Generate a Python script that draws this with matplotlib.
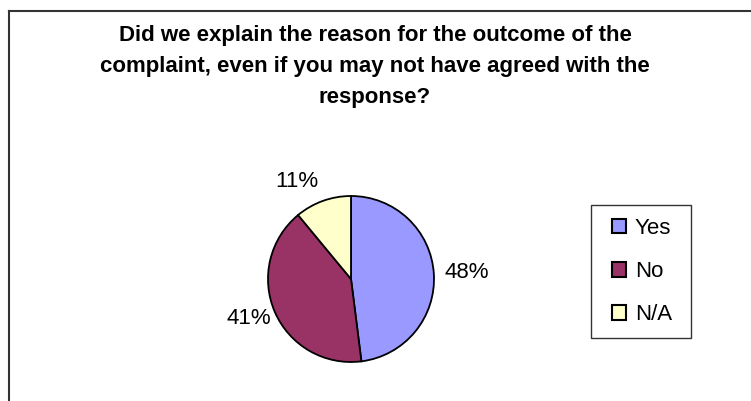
import matplotlib
matplotlib.use("Agg")
import matplotlib.pyplot as plt
from matplotlib.lines import Line2D
from matplotlib.patches import Rectangle

# Datos -------------------------------------------------------------------
categorias = ["Yes", "No", "N/A"]
porcentajes = [48, 41, 11]
colores = ["#9999FF", "#993366", "#FFFFCC"]
titulo = ("Did we explain the reason for the outcome of the\n"
          "complaint, even if you may not have agreed with the\n"
          "response?")

plt.rcParams["font.family"] = ["Liberation Sans", "DejaVu Sans"]

W, H = 751, 401
fig = plt.figure(figsize=(W / 100, H / 100), dpi=100)
fig.patch.set_facecolor("white")

# borde del area de grafico (sale por la derecha y por abajo)
fig.add_artist(Line2D([8.5 / W, 1], [1 - 10.5 / H, 1 - 10.5 / H],
                      color="#333333", lw=1.5, transform=fig.transFigure))
fig.add_artist(Line2D([8.5 / W, 8.5 / W], [0, 1 - 10.5 / H],
                      color="#333333", lw=1.5, transform=fig.transFigure))

# titulo
fig.text(375 / W, 1 - 66.5 / H, titulo, ha="center", va="center",
         fontsize=16, fontweight="bold", linespacing=1.6)

# torta
cx, cy, r = 351, 279, 83
ax = fig.add_axes([(cx - r) / W, (H - cy - r) / H, 2 * r / W, 2 * r / H])
cunas, textos, autotextos = ax.pie(
    porcentajes, colors=colores, startangle=90, counterclock=False,
    autopct="%1.0f%%", pctdistance=1.38,
    wedgeprops=dict(edgecolor="black", linewidth=1.3),
    textprops=dict(fontsize=16, color="black"))
ax.set_xlim(-1, 1)
ax.set_ylim(-1, 1)
ax.set_aspect("auto")

# ajuste fino de las etiquetas de porcentaje
posiciones = [(1.40, 0.08), (-1.23, -0.48), (-0.65, 1.18)]
for t, p in zip(autotextos, posiciones):
    t.set_position(p)

# caja de la leyenda
fig.add_artist(Rectangle((591 / W, 1 - 338 / H), 100 / W, 133 / H,
                         transform=fig.transFigure, facecolor="white",
                         edgecolor="#333333", linewidth=1.0, zorder=1))

# leyenda
leg = fig.legend(cunas, categorias, loc="upper left",
                 bbox_to_anchor=(612 / W, 1 - 218 / H),
                 fontsize=16, frameon=False, borderpad=0, borderaxespad=0,
                 handlelength=0.63, handleheight=0.63, handletextpad=0.4,
                 labelspacing=1.0)
leg.set_zorder(2)
for h in leg.legend_handles:
    h.set_edgecolor("black")
    h.set_linewidth(1.5)

fig.savefig("out.png", dpi=100)
